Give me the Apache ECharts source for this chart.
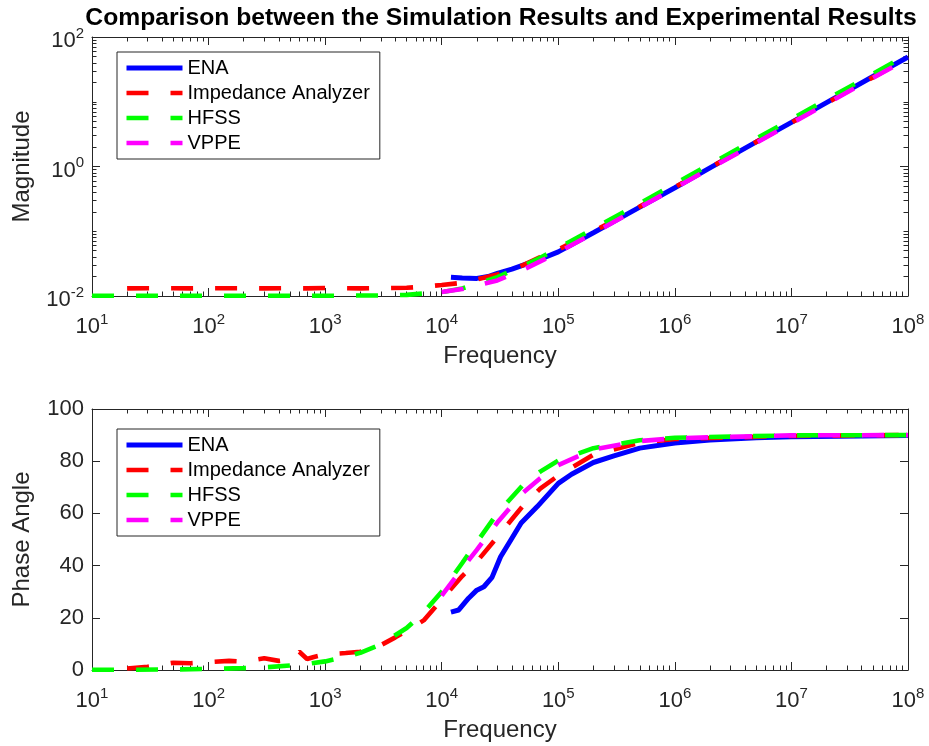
<!DOCTYPE html>
<html><head><meta charset="utf-8">
<script src="https://cdn.jsdelivr.net/npm/echarts@6/dist/echarts.min.js"></script>
<style>html,body{margin:0;padding:0;background:#fff}#c{width:929px;height:746px}</style>
</head><body><div id="c"></div>
<script>
// ---------------- DATA ----------------
const seriesNames = ['ENA', 'Impedance Analyzer', 'HFSS', 'VPPE'];
const xTickValues = [10, 100, 1000, 1e4, 1e5, 1e6, 1e7, 1e8];
const magTickValues = [0.01, 1, 100];

// Magnitude (top plot)
const magFreqENA = [1.2e4, 1.5e4, 2e4, 2.5e4, 3e4, 4e4, 5e4, 7e4, 1e5, 2e5, 5e5, 1e6, 2e6, 5e6, 1e7, 2e7, 5e7, 1e8];
const magENA     = [0.0195, 0.019, 0.0187, 0.0200, 0.0224, 0.026, 0.030, 0.037, 0.048, 0.095, 0.236, 0.47, 0.95, 2.4, 4.8, 9.7, 24.5, 49];

const magFreqIA = [20, 30, 50, 70, 100, 200, 300, 500, 700, 1000, 2000, 3000, 5000, 7000, 1e4, 1.5e4, 2e4, 3e4, 5e4, 7e4, 1e5, 2e5, 5e5, 1e6, 2e6, 5e6, 1e7, 2e7, 5e7, 1e8];
const magIA     = [0.0131, 0.0132, 0.0132, 0.0131, 0.0132, 0.0132, 0.0131, 0.0132, 0.0131, 0.0133, 0.0131, 0.0132, 0.0134, 0.0139, 0.0148, 0.016, 0.018, 0.0215, 0.030, 0.040, 0.052, 0.099, 0.24, 0.48, 0.96, 2.4, 4.75, 9.5, 23.8, 47.5];

const magFreqHFSS = [10, 100, 1000, 3000, 5000, 1e4, 1.5e4, 2e4, 3e4, 5e4, 7e4, 1e5, 2e5, 5e5, 1e6, 2e6, 5e6, 1e7, 2e7, 5e7, 1e8];
const magHFSS     = [0.0101, 0.0101, 0.0101, 0.0102, 0.0104, 0.0115, 0.0131, 0.0153, 0.0196, 0.029, 0.039, 0.055, 0.109, 0.27, 0.54, 1.08, 2.7, 5.4, 10.8, 27, 54];

const magFreqVPPE = [1e4, 1.5e4, 2e4, 3e4, 5e4, 7e4, 1e5, 2e5, 5e5, 1e6, 2e6, 5e6, 1e7, 2e7, 5e7, 1e8];
const magVPPE     = [0.0115, 0.0128, 0.0146, 0.0174, 0.0255, 0.0342, 0.0475, 0.093, 0.233, 0.465, 0.93, 2.33, 4.65, 9.3, 23.3, 46.5];

// Phase angle (bottom plot)
const phFreqENA = [1.2e4, 1.4e4, 1.7e4, 2e4, 2.3e4, 2.7e4, 3.2e4, 4e4, 4.8e4, 6.6e4, 1e5, 1.3e5, 2e5, 3e5, 5e5, 1e6, 2e6, 5e6, 1e7, 1e8];
const phENA     = [22.2, 23, 27.5, 30.6, 31.9, 35.5, 43.4, 50.5, 56.3, 62.6, 71.5, 75, 79.5, 82, 85, 87, 88.1, 89, 89.4, 89.8];

const phFreqIA = [20, 30, 50, 70, 100, 150, 200, 300, 400, 500, 600, 700, 800, 1000, 1500, 2000, 3000, 4000, 5000, 7000, 1e4, 1.5e4, 2e4, 3e4, 5e4, 7e4, 1e5, 2e5, 5e5, 1e6, 1e7, 1e8];
const phIA     = [0.6, 1.2, 2.8, 2.6, 3.0, 3.5, 3.2, 4.5, 3.5, 4.0, 7.0, 4.2, 5.0, 6.0, 6.5, 7.0, 9.5, 12.5, 15.0, 19.0, 27, 36, 41.5, 51, 63, 69.5, 74.5, 82.5, 87, 88.5, 89.7, 90];

const phFreqHFSS = [10, 20, 50, 100, 200, 300, 500, 700, 1000, 1500, 2000, 3000, 5000, 7000, 1e4, 1.5e4, 2e4, 3e4, 5e4, 7e4, 1e5, 2e5, 5e5, 1e6, 1e7, 1e8];
const phHFSS     = [0.1, 0.1, 0.2, 0.4, 0.7, 1.0, 1.7, 2.3, 3.3, 5.0, 6.6, 9.8, 16.1, 22, 30, 41, 49, 60, 71, 76, 80.2, 85, 88, 89, 89.9, 90];

const phFreqVPPE = [1e4, 1.5e4, 2e4, 3e4, 5e4, 7e4, 1e5, 2e5, 5e5, 1e6, 1e7, 1e8];
const phVPPE     = [28.5, 39, 46, 56.5, 68, 73.5, 78.5, 84.5, 87.7, 88.8, 89.9, 90];

// ---------------- STYLE / BUILD ----------------
const FONT = '"Liberation Sans", Arial, Helvetica, sans-serif';
const AX = '#262626';
const colors = ['#0000ff', '#ff0000', '#00ff00', '#ff00ff'];

function pairs(f, v) { return f.map((x, i) => [x, v[i]]); }
function minors(e0, e1) {
  const out = [];
  for (let e = e0; e < e1; e++) {
    for (let k = 2; k <= 9; k++) out.push(k * Math.pow(10, e));
    if (e + 1 < e1) out.push(Math.pow(10, e + 1));
  }
  return out;
}
const xMinor = minors(1, 8).filter(v => !xTickValues.some(t => Math.abs(t - v) / t < 1e-9));
const yMinor = minors(-2, 2).filter(v => !magTickValues.some(t => Math.abs(t - v) / t < 1e-9));

const rich = {
  b: { fontSize: 22, fontFamily: FONT, color: AX, verticalAlign: 'bottom', lineHeight: 22 },
  s: { fontSize: 15, fontFamily: FONT, color: AX, verticalAlign: 'bottom', lineHeight: 15, padding: [0, 0, 11, 0] }
};
const powFmt = v => '{b|10}{s|' + Math.round(Math.log10(v)) + '}';

function logX(grid, pos, kind, withLabel) {
  const o = {
    type: 'log', logBase: 10, min: 10, max: 1e8, gridIndex: grid, position: pos,
    splitLine: { show: false },
    axisLine: { show: kind === 'major', lineStyle: { color: AX, width: 1 } },
    axisTick: { show: true, inside: true, length: kind === 'major' ? 8 : 4.5,
      lineStyle: { color: AX, width: 1 },
      customValues: kind === 'major' ? xTickValues : xMinor },
    axisLabel: { show: false }
  };
  if (withLabel) {
    o.axisLabel = { show: true, customValues: xTickValues, formatter: powFmt, rich: rich, margin: 20 };
    o.name = 'Frequency';
    o.nameLocation = 'middle';
    o.nameGap = 48;
    o.nameTextStyle = { fontSize: 24, fontFamily: FONT, color: AX };
  }
  return o;
}
function logY(pos, kind, withLabel) {
  const o = {
    type: 'log', logBase: 10, min: 0.01, max: 100, gridIndex: 0, position: pos,
    splitLine: { show: false },
    axisLine: { show: kind === 'major', lineStyle: { color: AX, width: 1 } },
    axisTick: { show: true, inside: true, length: kind === 'major' ? 8 : 4.5,
      lineStyle: { color: AX, width: 1 },
      customValues: kind === 'major' ? magTickValues : yMinor },
    axisLabel: { show: false }
  };
  if (withLabel) {
    o.axisLabel = { show: true, customValues: magTickValues, formatter: powFmt, rich: rich, margin: 8, padding: [8, 0, 0, 0] };
    o.name = 'Magnitude';
    o.nameLocation = 'middle';
    o.nameGap = 58;
    o.nameRotate = 90;
    o.nameTextStyle = { fontSize: 24, fontFamily: FONT, color: AX };
  }
  return o;
}
function linY(pos, withLabel) {
  const o = {
    type: 'value', min: 0, max: 100, interval: 20, gridIndex: 1, position: pos,
    splitLine: { show: false },
    axisLine: { show: true, lineStyle: { color: AX, width: 1 } },
    axisTick: { show: true, inside: true, length: 8, lineStyle: { color: AX, width: 1 } },
    axisLabel: { show: false }
  };
  if (withLabel) {
    o.axisLabel = { show: true, fontSize: 22, fontFamily: FONT, color: AX, margin: 8 };
    o.name = 'Phase Angle';
    o.nameLocation = 'middle';
    o.nameGap = 58;
    o.nameRotate = 90;
    o.nameTextStyle = { fontSize: 24, fontFamily: FONT, color: AX };
  }
  return o;
}

const xAxis = [
  logX(0, 'bottom', 'major', true), logX(0, 'bottom', 'minor', false),
  logX(0, 'top', 'major', false), logX(0, 'top', 'minor', false),
  logX(1, 'bottom', 'major', true), logX(1, 'bottom', 'minor', false),
  logX(1, 'top', 'major', false), logX(1, 'top', 'minor', false)
];
const yAxis = [
  logY('left', 'major', true), logY('left', 'minor', false),
  logY('right', 'major', false), logY('right', 'minor', false),
  linY('left', true), linY('right', false)
];

function mkSeries(idx, data, xi, yi) {
  const solid = idx === 0;
  return {
    type: 'line', name: seriesNames[idx], data: data, xAxisIndex: xi, yAxisIndex: yi,
    symbol: 'none', showSymbol: false, clip: false, z: 2 + idx,
    lineStyle: { color: colors[idx], width: solid ? 5 : 4.6, type: solid ? 'solid' : [22, 22], cap: 'butt' },
    itemStyle: { color: colors[idx] },
    emphasis: { disabled: true }
  };
}
const series = [
  mkSeries(0, pairs(magFreqENA, magENA), 0, 0),
  mkSeries(1, pairs(magFreqIA, magIA), 0, 0),
  mkSeries(2, pairs(magFreqHFSS, magHFSS), 0, 0),
  mkSeries(3, pairs(magFreqVPPE, magVPPE), 0, 0),
  mkSeries(0, pairs(phFreqENA, phENA), 4, 4),
  mkSeries(1, pairs(phFreqIA, phIA), 4, 4),
  mkSeries(2, pairs(phFreqHFSS, phHFSS), 4, 4),
  mkSeries(3, pairs(phFreqVPPE, phVPPE), 4, 4)
];

function mkLegend(top) {
  return {
    orient: 'vertical', left: 117, top: top, data: seriesNames,
    itemWidth: 56, itemHeight: 14, itemGap: 5,
    padding: [6, 10, 6, 7],
    backgroundColor: '#fff', borderColor: AX, borderWidth: 1,
    itemStyle: { opacity: 0 },
    lineStyle: { width: 'inherit', type: 'inherit', color: 'inherit' },
    textStyle: { fontSize: 20, fontFamily: FONT, color: '#000', lineHeight: 20 },
    selectedMode: false
  };
}

const option = {
  animation: false,
  backgroundColor: '#fff',
  title: {
    text: 'Comparison between the Simulation Results and Experimental Results',
    left: 496, top: 1, textAlign: 'center',
    textStyle: { fontSize: 24.7, fontWeight: 'bold', fontFamily: FONT, color: '#000' }
  },
  grid: [
    { left: 92, right: 21, top: 37, height: 259 },
    { left: 92, right: 21, top: 409, height: 261 }
  ],
  legend: [mkLegend(52), mkLegend(429)],
  xAxis: xAxis,
  yAxis: yAxis,
  series: series
};
const chart = echarts.init(document.getElementById('c'), null, { renderer: 'canvas' });
chart.setOption(option);
</script>
</body></html>
